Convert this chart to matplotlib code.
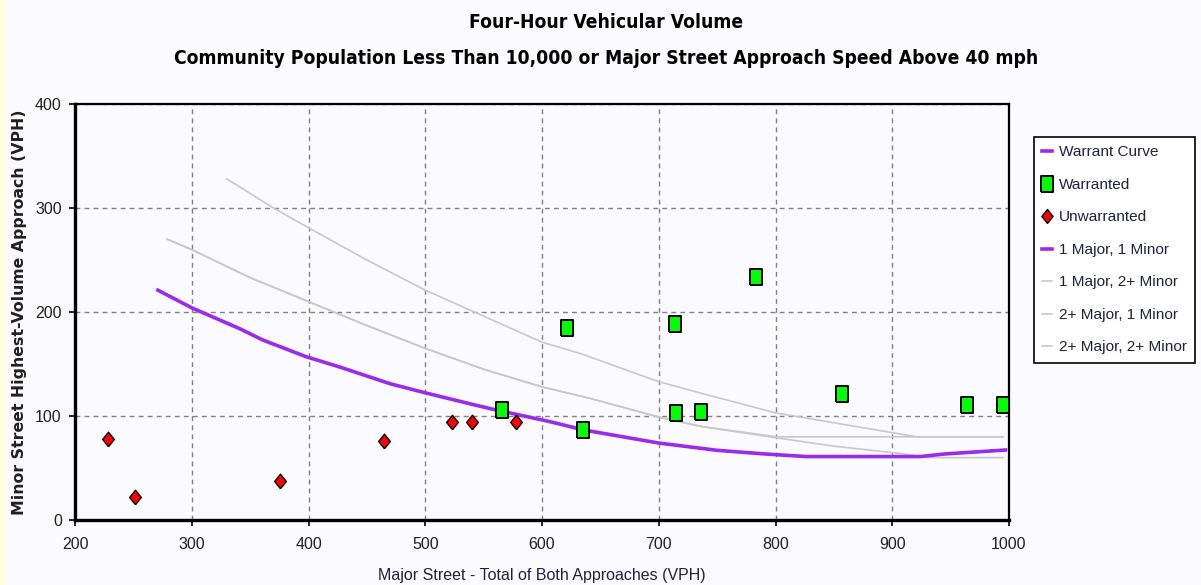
import matplotlib
matplotlib.use('Agg')
import matplotlib.pyplot as plt
from matplotlib.lines import Line2D

# Warrant curve (1 Major, 1 Minor)
curve_x = [271, 300, 341, 361, 398, 427, 470, 501, 541, 556, 607, 636, 700, 750, 791, 826, 860, 900, 924, 945, 975, 997]
curve_y = [221, 204, 184, 173, 157, 147, 131, 122, 111, 107, 94.5, 86.5, 74, 67, 63.5, 61, 61, 61, 61, 63.5, 65.7, 67.3]

# 1 Major, 2+ Minor
m1_2_x = [279, 300, 350, 400, 450, 500, 550, 600, 641, 700, 736, 801, 995]
m1_2_y = [270, 260, 233, 210, 187, 165, 145, 128, 117, 99, 90, 80, 80]

# 2+ Major, 1 Minor
m2_1_x = [279, 300, 350, 400, 450, 500, 550, 600, 641, 700, 736, 801, 850, 907, 930, 995]
m2_1_y = [270, 260, 233, 210, 187, 165, 145, 128, 117, 99, 90, 79, 71, 64, 60, 60]

# 2+ Major, 2+ Minor
m2_2_x = [330, 370, 400, 450, 500, 600, 633, 700, 736, 800, 900, 921, 995]
m2_2_y = [328, 300, 281, 250, 221, 171, 160, 133, 122, 103, 84, 80, 80]

# data points
warr_x = [566, 635, 621, 714, 715, 736, 783, 857, 964, 995]
warr_y = [106, 86.5, 184.5, 188, 102.6, 103.5, 234, 121, 111, 111]
unwarr_x = [228, 251, 376, 465, 523, 540, 578]
unwarr_y = [78, 22, 37.5, 76, 94, 94, 94]

xticks = [200, 300, 400, 500, 600, 700, 800, 900, 1000]
yticks = [0, 100, 200, 300, 400]

purple = '#9b2bec'
gray = '#c8c8c8'
bg = '#fbfbff'
sans = ['Liberation Sans', 'DejaVu Sans']
box = [(-0.8, -1), (0.8, -1), (0.8, 1), (-0.8, 1), (-0.8, -1)]
diamond = [(0, -1), (0.8, 0), (0, 1), (-0.8, 0), (0, -1)]

fig = plt.figure(figsize=(12.01, 5.85), dpi=100, facecolor=bg)
# pale yellow strip on the left edge
fig.patches.append(plt.Rectangle((0, 0), 6 / 1201, 1, transform=fig.transFigure,
                                 facecolor='#ffffe0', edgecolor='none', zorder=0))

ax = fig.add_axes([75 / 1201, 1 - 520 / 585, (1009 - 75) / 1201, (520 - 104) / 585])
ax.set_facecolor(bg)

ax.plot(m2_2_x, m2_2_y, color=gray, lw=1.2, zorder=2)
ax.plot(m1_2_x, m1_2_y, color=gray, lw=1.2, zorder=2)
ax.plot(m2_1_x, m2_1_y, color=gray, lw=1.2, zorder=2)
ax.plot(curve_x, curve_y, color=purple, lw=2.6, zorder=3)

ax.plot(unwarr_x, unwarr_y, linestyle='none', marker=diamond, markersize=10.5,
        markerfacecolor='#ff0000', markeredgecolor='black', markeredgewidth=1.0, zorder=4)
ax.plot(warr_x, warr_y, linestyle='none', marker=box, markersize=11,
        markerfacecolor='#00ff00', markeredgecolor='black', markeredgewidth=1.4, zorder=4)

ax.set_xlim(200, 1000)
ax.set_ylim(0, 400)
ax.set_xticks(xticks)
ax.set_yticks(yticks)
ax.grid(True, color='#808080', linestyle=(0, (3.5, 3)), linewidth=1.0)
ax.set_axisbelow(True)

for side in ['left', 'bottom']:
    ax.spines[side].set_linewidth(2.4)
for side in ['top', 'right']:
    ax.spines[side].set_linewidth(1.6)

ax.tick_params(direction='out', length=4.5, width=1.2, colors='black',
               labelsize=11.5, labelcolor='#202020')
ax.tick_params(axis='x', pad=8)
ax.tick_params(axis='y', pad=5)
for lab in ax.get_xticklabels() + ax.get_yticklabels():
    lab.set_family(sans)

ax.set_xlabel('Major Street - Total of Both Approaches (VPH)', fontsize=11.5,
              family=sans, color='#202040', labelpad=11)
ax.set_ylabel('Minor Street Highest-Volume Approach (VPH)', fontsize=11.3, fontweight='bold',
              family=['DejaVu Sans'], color='#202020', labelpad=6)

# condensed bold title
title_font = dict(ha='center', va='center', fontsize=13.8, fontweight='bold',
                  family=['DejaVu Sans'], fontstretch='condensed')
fig.text(0.505, 1 - 23 / 585, 'Four-Hour Vehicular Volume', **title_font)
fig.text(0.505, 1 - 59 / 585,
         'Community Population Less Than 10,000 or Major Street Approach Speed Above 40 mph',
         **title_font)

handles = [
    Line2D([0], [0], color=purple, lw=2.6),
    Line2D([0], [0], linestyle='none', marker=box, markersize=11, markerfacecolor='#00ff00',
           markeredgecolor='black', markeredgewidth=1.4),
    Line2D([0], [0], linestyle='none', marker=diamond, markersize=10, markerfacecolor='#ff0000',
           markeredgecolor='black', markeredgewidth=1.0),
    Line2D([0], [0], color=purple, lw=2.6),
    Line2D([0], [0], color=gray, lw=1.2),
    Line2D([0], [0], color=gray, lw=1.2),
    Line2D([0], [0], color=gray, lw=1.2),
]
labels = ['Warrant Curve', 'Warranted', 'Unwarranted', '1 Major, 1 Minor',
          '1 Major, 2+ Minor', '2+ Major, 1 Minor', '2+ Major, 2+ Minor']
leg = fig.legend(handles, labels, loc='upper left', bbox_to_anchor=(1034 / 1201, 1 - 137 / 585),
                 bbox_transform=fig.transFigure, borderaxespad=0, frameon=True, fancybox=False,
                 edgecolor='black', facecolor='white', framealpha=1, handlelength=0.6,
                 handletextpad=0.45, labelspacing=1.2, borderpad=0.55,
                 prop={'family': sans, 'size': 11.1})
leg.get_frame().set_linewidth(1.2)
for t in leg.get_texts():
    t.set_color('#202040')

fig.savefig('out.png', dpi=100, facecolor=bg)
